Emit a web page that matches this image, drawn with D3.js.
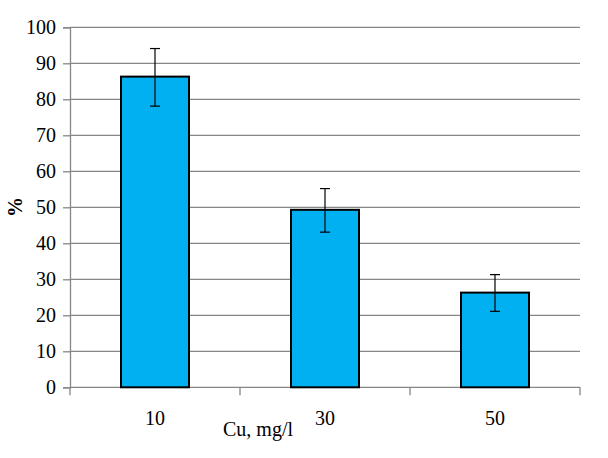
<!DOCTYPE html>
<html>
<head>
<meta charset="utf-8">
<script src="https://cdn.jsdelivr.net/npm/d3@7"></script>
<style>
  body { margin: 0; background: #fff; }
  text { font-family: "Liberation Serif", "Times New Roman", serif; }
</style>
</head>
<body>
<svg id="chart" width="608" height="458"></svg>
<script>
// data
var categories = ["10", "30", "50"];
var values = [86.3, 49.3, 26.3];
var errLow = [78.1, 43.1, 21.1];
var errHigh = [94.1, 55.2, 31.3];
var yTicks = [0, 10, 20, 30, 40, 50, 60, 70, 80, 90, 100];

var svg = d3.select("#chart");
var plotLeft = 70, plotRight = 580, plotTop = 27.3, plotBottom = 387.3;

var x = d3.scaleBand().domain(categories).range([plotLeft, plotRight])
  .paddingInner(0.6).paddingOuter(0.3);
var y = d3.scaleLinear().domain([0, 100]).range([plotBottom, plotTop]);

// gridlines
svg.append("g").selectAll("line").data(yTicks.slice(1)).enter().append("line")
  .attr("x1", plotLeft).attr("x2", plotRight)
  .attr("y1", function (d) { return y(d); }).attr("y2", function (d) { return y(d); })
  .attr("stroke", "#868686").attr("stroke-width", 1.3);

// y axis
var yAxis = svg.append("g").attr("transform", "translate(" + plotLeft + ",0)")
  .call(d3.axisLeft(y).tickValues(yTicks).tickSize(7).tickPadding(7));
yAxis.select(".domain").attr("stroke", "#868686").attr("stroke-width", 1.3);
yAxis.selectAll(".tick line").attr("stroke", "#868686").attr("stroke-width", 1.3);
yAxis.selectAll("text").attr("font-size", 20).attr("fill", "#000")
  .style("font-family", "'Liberation Serif', serif");

// x axis (ticks between categories)
var step = x.step();
var xTickPos = [0, 1, 2, 3].map(function (i) { return plotLeft + i * step; });
var xg = svg.append("g");
xg.append("line").attr("x1", plotLeft).attr("x2", plotRight).attr("y1", plotBottom).attr("y2", plotBottom)
  .attr("stroke", "#868686").attr("stroke-width", 1.3);
xg.selectAll("line.tk").data(xTickPos).enter().append("line").attr("class", "tk")
  .attr("x1", function (d) { return d; }).attr("x2", function (d) { return d; })
  .attr("y1", plotBottom).attr("y2", plotBottom + 8)
  .attr("stroke", "#868686").attr("stroke-width", 1.3);
xg.selectAll("text").data(categories).enter().append("text")
  .attr("x", function (d) { return x(d) + x.bandwidth() / 2; })
  .attr("y", 425).attr("text-anchor", "middle").attr("font-size", 20)
  .text(function (d) { return d; });

// bars
svg.append("g").selectAll("rect").data(categories).enter().append("rect")
  .attr("x", function (d) { return x(d); })
  .attr("y", function (d, i) { return y(values[i]); })
  .attr("width", x.bandwidth())
  .attr("height", function (d, i) { return y(0) - y(values[i]); })
  .attr("fill", "#00b0f0").attr("stroke", "#000").attr("stroke-width", 2);

// error bars
var eb = svg.append("g").attr("stroke", "#000").attr("stroke-width", 1.2);
categories.forEach(function (c, i) {
  var cx = x(c) + x.bandwidth() / 2;
  eb.append("line").attr("x1", cx).attr("x2", cx).attr("y1", y(errLow[i])).attr("y2", y(errHigh[i]));
  eb.append("line").attr("x1", cx - 5).attr("x2", cx + 5).attr("y1", y(errLow[i])).attr("y2", y(errLow[i]));
  eb.append("line").attr("x1", cx - 5).attr("x2", cx + 5).attr("y1", y(errHigh[i])).attr("y2", y(errHigh[i]));
});

// axis titles
svg.append("text").attr("x", 258).attr("y", 436).attr("text-anchor", "middle")
  .attr("font-size", 20).text("Cu, mg/l");
svg.append("text").attr("transform", "translate(22,207) rotate(-90)")
  .attr("text-anchor", "middle").attr("font-size", 20).attr("font-weight", "bold").text("%");
</script>
</body>
</html>
